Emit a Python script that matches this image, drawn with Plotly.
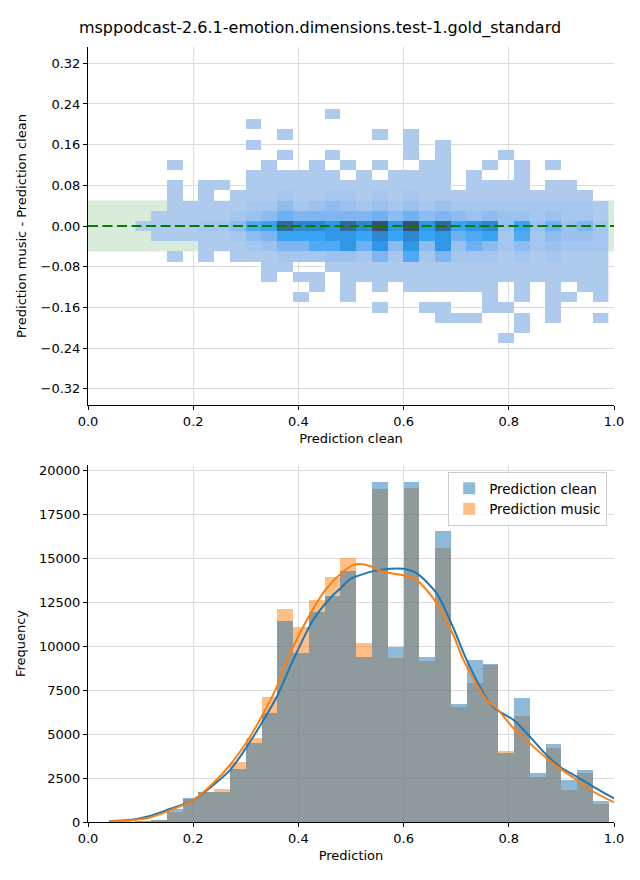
import plotly.graph_objects as go

TITLE = "msppodcast-2.6.1-emotion.dimensions.test-1.gold_standard"

# ---------------- top panel: 2D histogram (difference vs clean prediction) -------------
hm_x_centers = [0.105, 0.135, 0.165, 0.195, 0.225, 0.255, 0.285, 0.315, 0.345, 0.375,
                0.405, 0.435, 0.465, 0.495, 0.525, 0.555, 0.585, 0.615, 0.645, 0.675,
                0.705, 0.735, 0.765, 0.795, 0.825, 0.855, 0.885, 0.915, 0.945, 0.975]
hm_y_centers = [0.22, 0.20, 0.18, 0.16, 0.14, 0.12, 0.10, 0.08, 0.06, 0.04, 0.02, 0.00,
                -0.02, -0.04, -0.06, -0.08, -0.10, -0.12, -0.14, -0.16, -0.18, -0.20, -0.22]

# sparse rows: columns (index into hm_x_centers) holding a low count
sparse_rows = {
    0.22: [12],
    0.20: [7],
    0.18: [9, 15, 17],
    0.16: [7, 17, 19],
    0.14: [9, 12, 17, 19, 23],
    0.12: [2, 8, 11, 13, 15, 18, 19, 22, 24, 26],
    0.10: [7, 8, 9, 10, 11, 12, 14, 16, 17, 18, 19, 21, 24],
    0.08: [2, 4, 5, 7, 8, 9, 10, 11, 12, 13, 14, 15, 16, 17, 18, 19, 21, 22, 23, 24, 26, 27],
    -0.08: [8, 9, 12, 13, 14, 15, 16, 17, 18, 19, 20, 21, 22, 23, 24, 25, 26, 27, 28, 29],
    -0.10: [8, 10, 11, 13, 14, 15, 16, 17, 18, 19, 20, 21, 22, 23, 24, 25, 26, 27, 28, 29],
    -0.12: [11, 13, 15, 17, 18, 19, 20, 21, 22, 24, 26, 28, 29],
    -0.14: [10, 13, 22, 24, 26, 27, 29],
    -0.16: [15, 18, 19, 22, 23, 26],
    -0.18: [19, 20, 21, 24, 26, 29],
    -0.20: [24],
    -0.22: [23],
}
# dense rows: density level per column ('.' = empty, 1..9, a=10, b=11, c=12)
dense_rows = {
    0.06: "..1.1." + "111" + "2" + "11" + "22" + "1" + "2" + "1" + "2" + "11111111111" + ".",
    0.04: ".." + "11111" + "22" + "4" + "2" + "3" + "4" + "3" + "2" + "3" + "2" + "3" + "2" + "3" + "222222222" + "1",
    0.02: "." + "11111" + "2" + "3" + "4" + "6" + "55555" + "6" + "4" + "6" + "4" + "5" + "4" + "3" + "4" + "3" + "3" + "2" + "3" + "2" + "2" + "1",
    0.00: "1111" + "22" + "4" + "7" + "8" + "b" + "a" + "a" + "9" + "b" + "a" + "c" + "9" + "c" + "9" + "b" + "8" + "9" + "a" + "3" + "8" + "3" + "6" + "3" + "5" + "2",
    -0.02: "." + "11111" + "2" + "4" + "5" + "8" + "8" + "8" + "9" + "9" + "8" + "a" + "8" + "a" + "8" + "9" + "6" + "7" + "8" + "2" + "7" + "2" + "4" + "3" + "3" + "2",
    -0.04: "...." + "111" + "2" + "3" + "5" + "5" + "7" + "7" + "9" + "6" + "9" + "4" + "9" + "4" + "9" + "3" + "6" + "4" + "2" + "4" + "2" + "3" + "2" + "2" + "2",
    -0.06: "..1.1." + "111" + "2" + "2" + "2" + "3" + "3" + "2" + "5" + "2" + "7" + "2" + "5" + "2" + "2" + "2" + "1" + "2" + "1" + "2" + "1" + "1" + "1",
}
# approximate cell counts for each density level
level_counts = {"1": 10, "2": 610, "3": 1210, "4": 1810, "5": 2410, "6": 3010,
                "7": 3610, "8": 4210, "9": 4810, "a": 5410, "b": 6010, "c": 6610}
level_colors = ["#aecbee", "#a5c6ef", "#9bc1ef", "#8fbcf0", "#7fb6f1", "#6cb1f3",
                "#50a9f5", "#38a4f5", "#2e97e7", "#2e88d0", "#376796", "#3b4f6b"]

z = []
for yv in hm_y_centers:
    row = [None] * len(hm_x_centers)
    if yv in dense_rows:
        s = dense_rows[yv]
        assert len(s) == 30, (yv, len(s))
        for i, ch in enumerate(s):
            if ch != ".":
                row[i] = level_counts[ch]
    elif yv in sparse_rows:
        for i in sparse_rows[yv]:
            row[i] = level_counts["1"]
    z.append(row)

cmin, cmax = level_counts["1"], level_counts["c"]
colorscale = [[k / (len(level_colors) - 1), c] for k, c in enumerate(level_colors)]

# ---------------- bottom panel: histograms + KDE -------------
hist_centers = [0.075, 0.105, 0.135, 0.165, 0.195, 0.225, 0.255, 0.285, 0.315, 0.345,
                0.375, 0.405, 0.435, 0.465, 0.495, 0.525, 0.555, 0.585, 0.615, 0.645,
                0.675, 0.705, 0.735, 0.765, 0.795, 0.825, 0.855, 0.885, 0.915, 0.945, 0.975]
clean_counts = [0, 30, 80, 740, 1350, 1700, 1720, 3000, 4500, 6200,
                11400, 9600, 11950, 12850, 14250, 9400, 19300, 9950, 19300, 9400,
                16550, 6700, 9200, 8980, 3920, 7050, 2780, 4420, 2390, 2950, 1200]
music_counts = [0, 25, 70, 590, 1290, 1700, 1870, 3400, 4750, 7080,
                12100, 11100, 12600, 13950, 15000, 10150, 18900, 9300, 19000, 9150,
                15550, 6550, 7900, 8900, 4030, 6000, 2570, 4200, 1820, 2780, 1040]

kde_clean_x = [0.04, 0.08, 0.112, 0.15, 0.20, 0.238, 0.27, 0.302, 0.33, 0.359, 0.39,
               0.428, 0.466, 0.479, 0.498, 0.517, 0.542, 0.574, 0.599, 0.625, 0.663,
               0.695, 0.72, 0.764, 0.783, 0.809, 0.84, 0.872, 0.897, 0.929, 0.961, 1.0]
kde_clean_y = [50, 110, 300, 680, 1250, 2100, 2950, 4280, 5610, 7120, 9200,
               11480, 12900, 13250, 13800, 14030, 14260, 14390, 14390, 14130, 12990,
               11000, 9200, 6740, 6270, 5800, 4850, 3800, 3140, 2580, 2000, 1340]
kde_music_x = [0.04, 0.08, 0.112, 0.15, 0.20, 0.238, 0.27, 0.302, 0.33, 0.359, 0.378,
               0.39, 0.416, 0.451, 0.482, 0.504, 0.517, 0.536, 0.561, 0.599, 0.625,
               0.663, 0.695, 0.714, 0.758, 0.777, 0.809, 0.84, 0.872, 0.897, 0.929, 0.961, 1.0]
kde_music_y = [40, 90, 210, 590, 1250, 2200, 3240, 4560, 5980, 7690, 9200,
               9960, 11480, 13180, 14150, 14600, 14660, 14550, 14220, 14030, 13750,
               12430, 10600, 9200, 6930, 6460, 5320, 4470, 3620, 3050, 2390, 1720, 1120]

BLUE = "#1f77b4"
ORANGE = "#ff7f0e"
GRID = "#dcdcdc"
FONT = "DejaVu Sans"

# the page body has an 8px margin, so the figure is drawn 8px in from the corner
W, H = 632, 872

fig = go.Figure()

fig.add_trace(go.Heatmap(
    x=hm_x_centers, y=hm_y_centers, z=z, colorscale=colorscale,
    zmin=cmin, zmax=cmax, showscale=False, hoverongaps=False,
    xaxis="x", yaxis="y"))

fig.add_trace(go.Bar(
    x=hist_centers, y=music_counts, width=0.03, name="Prediction music",
    marker=dict(color=ORANGE, line=dict(width=0)), opacity=0.5,
    xaxis="x2", yaxis="y2", legendrank=2))
fig.add_trace(go.Bar(
    x=hist_centers, y=clean_counts, width=0.03, name="Prediction clean",
    marker=dict(color=BLUE, line=dict(width=0)), opacity=0.5,
    xaxis="x2", yaxis="y2", legendrank=1))
fig.add_trace(go.Scatter(
    x=kde_clean_x, y=kde_clean_y, mode="lines", showlegend=False,
    line=dict(color=BLUE, width=2, shape="spline", smoothing=0.8),
    xaxis="x2", yaxis="y2"))
fig.add_trace(go.Scatter(
    x=kde_music_x, y=kde_music_y, mode="lines", showlegend=False,
    line=dict(color=ORANGE, width=2, shape="spline", smoothing=0.8),
    xaxis="x2", yaxis="y2"))

# green tolerance band and zero line
fig.add_shape(type="rect", xref="x", yref="y", x0=0, x1=1, y0=-0.05, y1=0.05,
              fillcolor="rgba(0,128,0,0.15)", line=dict(width=0), layer="below")
fig.add_shape(type="line", xref="x", yref="y", x0=0, x1=1, y0=0, y1=0,
              line=dict(color="green", width=2.2, dash="10px,4.5px"), layer="above")

axis_common = dict(showgrid=True, gridcolor=GRID, gridwidth=1, showline=True,
                   linecolor="black", linewidth=1.1, ticks="outside", ticklen=4,
                   tickcolor="black", tickwidth=1, zeroline=False,
                   tickfont=dict(family=FONT, size=13, color="black"),
                   title_font=dict(family=FONT, size=13, color="black"))

fig.update_layout(
    width=W, height=H,
    margin=dict(l=80, r=26, t=39, b=58, autoexpand=False),
    paper_bgcolor="white", plot_bgcolor="white",
    font=dict(family=FONT, size=13, color="black"),
    title=dict(text=TITLE, x=312 / W, xref="container", xanchor="center",
               y=1 - 19 / H, yref="container", yanchor="middle",
               font=dict(family=FONT, size=16, color="black")),
    barmode="overlay", bargap=0,
    showlegend=True,
    legend=dict(x=0.987, y=0.4516, xanchor="right", yanchor="top",
                bgcolor="rgba(255,255,255,0.8)", bordercolor="#cccccc", borderwidth=1,
                font=dict(family=FONT, size=13.5, color="black"),
                tracegroupgap=2),
    xaxis=dict(domain=[0, 1], anchor="y", range=[0, 1],
               tickvals=[0, 0.2, 0.4, 0.6, 0.8, 1.0], tickformat=".1f",
               title=dict(text="Prediction clean", standoff=6), **axis_common),
    yaxis=dict(domain=[0.538, 1], anchor="x", range=[-0.352, 0.352],
               tickvals=[-0.32, -0.24, -0.16, -0.08, 0, 0.08, 0.16, 0.24, 0.32],
               tickformat=".2f",
               title=dict(text="Prediction music - Prediction clean", standoff=10),
               **axis_common),
    xaxis2=dict(domain=[0, 1], anchor="y2", range=[0, 1],
                tickvals=[0, 0.2, 0.4, 0.6, 0.8, 1.0], tickformat=".1f",
                title=dict(text="Prediction", standoff=6), **axis_common),
    yaxis2=dict(domain=[0, 0.4606], anchor="x2", range=[0, 20290],
                tickvals=[0, 2500, 5000, 7500, 10000, 12500, 15000, 17500, 20000],
                tickformat="d",
                title=dict(text="Frequency", standoff=10), **axis_common),
)

fig.write_html("out.html")
